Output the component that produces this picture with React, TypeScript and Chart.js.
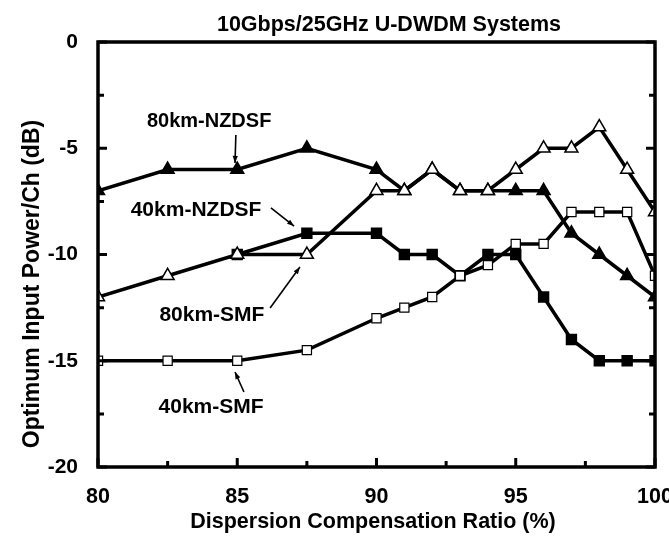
import React, { useEffect, useRef } from "react";
import { Chart, registerables } from "chart.js";

Chart.register(...registerables);

const chartTitle = "10Gbps/25GHz U-DWDM Systems";
const xTitle = "Dispersion Compensation Ratio (%)";
const yTitle = "Optimum Input Power/Ch (dB)";

const nz40X = [80, 82.5, 85, 87.5, 90, 91, 92, 93, 94, 95, 96, 97, 98, 99, 100];
const nz40Y = [-12, -11, -10, -10, -7, -7, -6, -7, -7, -6, -5, -5, -4, -6, -8];

const smf40X = [80, 82.5, 85, 87.5, 90, 91, 92, 93, 94, 95, 96, 97, 98, 99, 100];
const smf40Y = [-15, -15, -15, -14.5, -13, -12.5, -12, -11, -10.5, -9.5, -9.5, -8, -8, -8, -11];

const nz80X = [80, 82.5, 85, 87.5, 90, 91, 92, 93, 94, 95, 96, 97, 98, 99, 100];
const nz80Y = [-7, -6, -6, -5, -6, -7, -6, -7, -7, -7, -7, -9, -10, -11, -12];

const smf80X = [85, 87.5, 90, 91, 92, 93, 94, 95, 96, 97, 98, 99, 100];
const smf80Y = [-10, -9, -9, -10, -10, -11, -10, -10, -12, -14, -15, -15, -15];

// annotation labels with arrows, in data coordinates
const noteTexts = ["80km-NZDSF", "40km-NZDSF", "80km-SMF", "40km-SMF"];
const noteSizes = [20, 21, 21, 21];
const noteAt = [
  [83.99, -3.76],
  [83.52, -7.91],
  [84.09, -12.85],
  [84.06, -17.18],
];
const arrowFrom = [
  [84.95, -4.38],
  [86.21, -7.81],
  [86.18, -12.52],
  [85.24, -16.47],
];
const arrowTo = [
  [84.92, -5.69],
  [87.04, -8.66],
  [87.25, -10.59],
  [84.92, -15.53],
];

const FONT = "'Liberation Sans', Arial, sans-serif";

function pts(xs: number[], ys: number[]) {
  return xs.map((x, i) => ({ x, y: ys[i] }));
}

const decorPlugin = {
  id: "decor",
  afterDraw(chart: any) {
    const ctx = chart.ctx as CanvasRenderingContext2D;
    const xs = chart.scales.x;
    const ys = chart.scales.y;
    const a = chart.chartArea;
    ctx.save();
    ctx.strokeStyle = "#000";
    ctx.fillStyle = "#000";
    // frame
    ctx.lineWidth = 3.5;
    ctx.strokeRect(a.left, a.top, a.right - a.left, a.bottom - a.top);
    // ticks
    ctx.lineWidth = 3;
    ctx.beginPath();
    for (let v = 80; v <= 100.001; v += 2.5) {
      const px = xs.getPixelForValue(v);
      const len = Math.abs(v % 5) < 0.01 ? 9 : 6;
      ctx.moveTo(px, a.bottom);
      ctx.lineTo(px, a.bottom - len);
    }
    for (let v = -20; v <= 0.001; v += 2.5) {
      const py = ys.getPixelForValue(v);
      const len = Math.abs(v % 5) < 0.01 ? 9 : 6;
      ctx.moveTo(a.left, py);
      ctx.lineTo(a.left + len, py);
      ctx.moveTo(a.right, py);
      ctx.lineTo(a.right - len, py);
    }
    ctx.stroke();

    // titles
    ctx.textAlign = "center";
    ctx.textBaseline = "alphabetic";
    ctx.font = `bold 21.5px ${FONT}`;
    ctx.fillText(chartTitle, 389, 31);
    ctx.font = `bold 21.5px ${FONT}`;
    ctx.textBaseline = "middle";
    ctx.fillText(xTitle, 373, 522);
    ctx.save();
    ctx.translate(33, 284);
    ctx.rotate(-Math.PI / 2);
    ctx.font = `bold 23px ${FONT}`;
    ctx.fillText(yTitle, 0, 0);
    ctx.restore();

    // annotations
    for (let i = 0; i < noteTexts.length; i++) {
      ctx.font = `bold ${noteSizes[i]}px ${FONT}`;
      ctx.textAlign = "center";
      ctx.textBaseline = "middle";
      ctx.fillText(
        noteTexts[i],
        xs.getPixelForValue(noteAt[i][0]),
        ys.getPixelForValue(noteAt[i][1])
      );
      const x1 = xs.getPixelForValue(arrowFrom[i][0]);
      const y1 = ys.getPixelForValue(arrowFrom[i][1]);
      const x2 = xs.getPixelForValue(arrowTo[i][0]);
      const y2 = ys.getPixelForValue(arrowTo[i][1]);
      ctx.lineWidth = 1.6;
      ctx.beginPath();
      ctx.moveTo(x1, y1);
      ctx.lineTo(x2, y2);
      ctx.stroke();
      const ang = Math.atan2(y2 - y1, x2 - x1);
      const hl = 7;
      const hw = 2.6;
      ctx.beginPath();
      ctx.moveTo(x2, y2);
      ctx.lineTo(
        x2 - hl * Math.cos(ang) + hw * Math.sin(ang),
        y2 - hl * Math.sin(ang) - hw * Math.cos(ang)
      );
      ctx.lineTo(
        x2 - hl * Math.cos(ang) - hw * Math.sin(ang),
        y2 - hl * Math.sin(ang) + hw * Math.cos(ang)
      );
      ctx.closePath();
      ctx.fill();
    }
    ctx.restore();
  },
};

export default function App() {
  const ref = useRef<HTMLCanvasElement | null>(null);
  useEffect(() => {
    if (!ref.current) return;
    const common = {
      borderColor: "#000",
      borderWidth: 3.5,
      tension: 0,
      pointBorderColor: "#000",
      pointBorderWidth: 1.5,
    };
    const chart = new Chart(ref.current, {
      type: "line",
      data: {
        datasets: [
          {
            ...common,
            label: "40km-NZDSF",
            data: pts(nz40X, nz40Y),
            pointStyle: "triangle",
            pointRadius: 7.5,
            pointBackgroundColor: "#fff",
          },
          {
            ...common,
            label: "40km-SMF",
            data: pts(smf40X, smf40Y),
            pointStyle: "rect",
            pointRadius: 6.5,
            pointBackgroundColor: "#fff",
            pointBorderWidth: 1.2,
          },
          {
            ...common,
            label: "80km-NZDSF",
            data: pts(nz80X, nz80Y),
            pointStyle: "triangle",
            pointRadius: 7.5,
            pointBackgroundColor: "#000",
          },
          {
            ...common,
            label: "80km-SMF",
            data: pts(smf80X, smf80Y),
            pointStyle: "rect",
            pointRadius: 7,
            pointBackgroundColor: "#000",
          },
        ],
      },
      options: {
        responsive: false,
        animation: false,
        events: [],
        layout: { padding: { top: 42, right: 14, left: 0, bottom: 0 } },
        plugins: {
          legend: { display: false },
          tooltip: { enabled: false },
          title: { display: false },
        },
        scales: {
          x: {
            type: "linear",
            min: 80,
            max: 100,
            grid: { display: false },
            border: { display: false },
            ticks: {
              stepSize: 5,
              color: "#000",
              padding: 9,
              font: { family: FONT, size: 21.5, weight: "bold" },
              maxRotation: 0,
            },
            afterFit: (s: any) => {
              s.height = 71;
              s.paddingLeft = 0;
              s.paddingRight = 0;
            },
          },
          y: {
            type: "linear",
            min: -20,
            max: 0,
            grid: { display: false },
            border: { display: false },
            ticks: {
              stepSize: 5,
              color: "#000",
              padding: 12,
              font: { family: FONT, size: 21, weight: "bold" },
            },
            afterFit: (s: any) => {
              s.width = 98;
              s.paddingTop = 0;
              s.paddingBottom = 0;
            },
          },
        },
      },
      plugins: [decorPlugin],
    } as any);
    return () => chart.destroy();
  }, []);
  return (
    <div style={{ position: "absolute", left: 0, top: 0, width: 669, height: 538, background: "#fff" }}>
      <canvas ref={ref} width={669} height={538} style={{ width: 669, height: 538, display: "block" }} />
    </div>
  );
}
